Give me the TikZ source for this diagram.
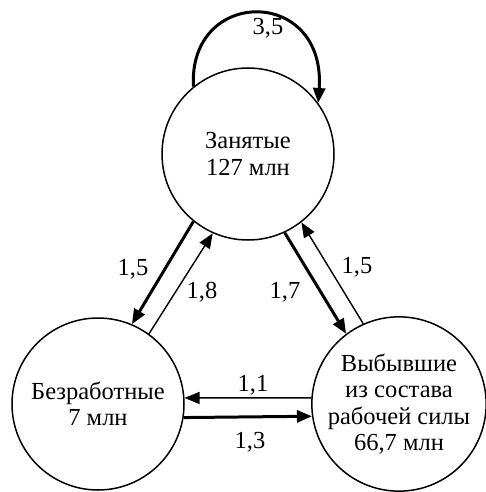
\documentclass[tikz,border=0pt]{standalone}
\usepackage{fontspec}
\setmainfont{Liberation Serif}
\usetikzlibrary{arrows.meta}

\begin{document}
\begin{tikzpicture}[x=1pt, y=1pt,
    state/.style={draw, circle, line width=1.5pt, minimum size=172pt, inner sep=0pt,
        align=center, font=\fontsize{24.5}{26.5}\selectfont},
    rate/.style={font=\fontsize{24.5}{26.5}\selectfont, inner sep=0pt},
    major/.style={line width=3pt, -{Triangle[length=15pt, width=12pt]}},
    minor/.style={line width=1.4pt, -{Triangle[length=15pt, width=12pt]}}]
    \useasboundingbox (0,0) rectangle (485,-492);

    % States
    \node[state] (emp) at (248,-154) {Занятые\\127 млн};
    \node[state] (unemp) at (98,-404) {Безработные\\7 млн};
    \node[state] (out) at (399,-404) {Выбывшие\\из состава\\рабочей силы\\66,7 млн};

    % Flows
    \draw[major] (emp.129) .. controls +(93:100) and +(86:117) .. (emp.36);
    \draw[major] (emp.231) -- (unemp.67);
    \draw[minor] (unemp.54) -- (emp.246);
    \draw[major] (emp.295) -- (out.127);
    \draw[minor] (out.114) -- (emp.308);
    \draw[minor] (out.176) -- (unemp.4);
    \draw[major] (unemp.351.3) -- (out.188.7);

    % Rates
    \node[rate] (r35) at (268,-28) {3,5};
    \node[rate] (r15a) at (133,-269) {1,5};
    \node[rate] (r18) at (202,-292) {1,8};
    \node[rate] (r17) at (285,-292) {1,7};
    \node[rate] (r15b) at (357,-267) {1,5};
    \node[rate] (r11) at (253,-385) {1,1};
    \node[rate] (r13) at (250,-442) {1,3};
\end{tikzpicture}
\end{document}
